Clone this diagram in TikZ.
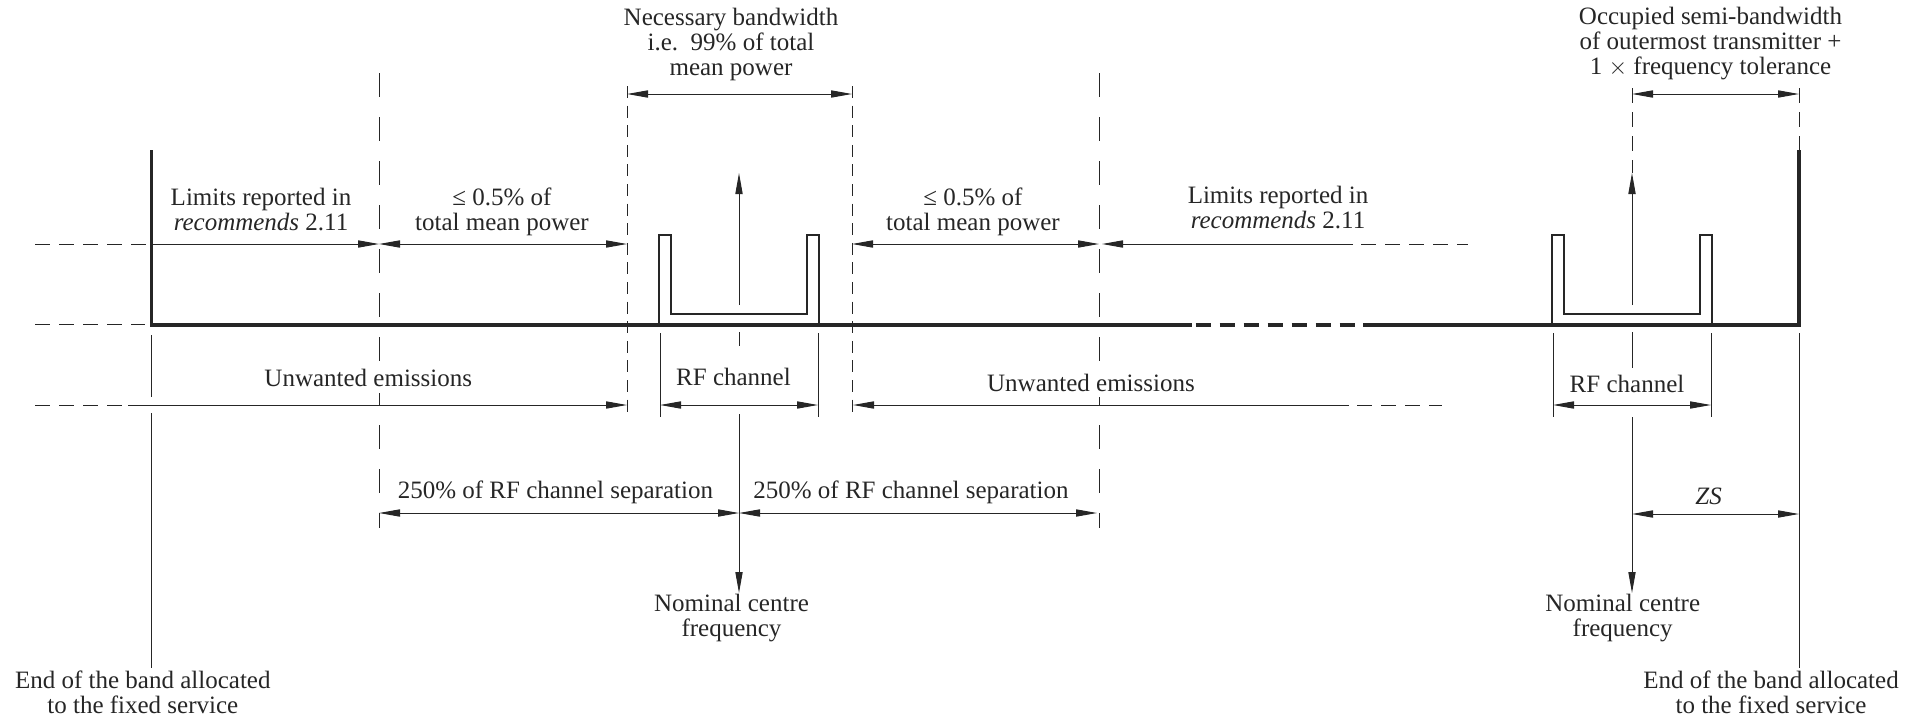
\documentclass[tikz,border=0pt]{standalone}
\usepackage{fontspec}
\setmainfont{Liberation Serif}
\usetikzlibrary{arrows.meta,positioning,calc}

\begin{document}
\begin{tikzpicture}[
    x=0.5pt, y=-0.5pt,
    color=black!85,
    font=\fontsize{12.5}{12.4}\selectfont,
    lbl/.style={align=center, anchor=base, inner sep=1pt},
    blank/.style={lbl, fill=white, inner sep=3pt},
    dim/.style={{Triangle[length=10.5pt, width=3.6pt]}-{Triangle[length=10.5pt, width=3.6pt]}, line width=0.5pt},
    arrow/.style={-{Triangle[length=10.5pt, width=3.6pt]}, line width=0.5pt},
    band/.style={line width=1.6pt},
    thin/.style={line width=0.5pt},
    chan/.style={line width=0.6pt},
    guide/.style={line width=0.5pt, dash pattern=on 6pt off 3.8pt},
    longguide/.style={line width=0.5pt, dash pattern=on 12pt off 10pt},
    ext/.style={line width=0.5pt, dash pattern=on 7.5pt off 4.5pt}
]
\useasboundingbox (0,0) rectangle (1919,723);

% points on the band floor
\coordinate (eL) at (151.5,325);
\coordinate (eR) at (1799,325);
\coordinate (gA) at (379,325);
\coordinate (gB) at (627,325);
\coordinate (gD) at (852,325);
\coordinate (gE) at (1099,325);
\coordinate (c1) at (739,325);
\coordinate (c2) at (1632,325);
\coordinate (brk1) at (1191.7,325);
\coordinate (brk2) at (1363.3,325);
\coordinate (far) at (35,325);
% rows
\coordinate (topA) at (0,73);
\coordinate (topB) at (0,86);
\coordinate (rN) at (0,94);
\coordinate (r1) at (0,244);
\coordinate (r2) at (0,405);
\coordinate (botB) at (0,415);
\coordinate (r3) at (0,513);
\coordinate (botA) at (0,528);

% band edges and floor
\draw[band] ($(eL)+(0,-175)$) -- (eL) -- (brk1);
\draw[band, dash pattern=on 7.85pt off 4.15pt] ($(brk1)+(4,0)$) -- ($(brk2)+(-4,0)$);
\draw[band] (brk2) -- (eR) -- ($(eR)+(0,-175)$);

% channels
\foreach \c in {c1,c2}{
  \draw[chan] ($(\c)+(-80,0)$) -- ++(0,-90) -- ++(12,0) -- ++(0,79) -- ++(136,0) -- ++(0,-79) -- ++(12,0) -- ++(0,90);
  \draw[arrow] ($(\c)+(0,-20)$) -- ($(\c)+(0,-152)$);
  \draw[thin] ($(\c)+(-79,8)$) -- ++(0,84);
  \draw[thin] ($(\c)+(79,8)$) -- ++(0,84);
  \draw[dim] ($(\c |- r2)+(-79,0)$) -- ($(\c |- r2)+(79,0)$);
}

% guide lines
\draw[ext] (far |- r1) -- ($(eL |- r1)+(-4,0)$);
\draw[ext] ($(far)+(0,-1)$) -- ($(eL)+(-7,-1)$);
\draw[thin] ($(eL)+(0,10)$) -- ($(eL |- r2)+(0,-8)$);
\draw[thin] ($(eL |- r2)+(0,8)$) -- ($(eL)+(0,343)$);
\draw[thin] ($(eR)+(0,8)$) -- ($(eR)+(0,343)$);
\draw[ext] ($(eR)+(0,-237)$) -- ($(eR)+(0,-175)$);
\draw[ext] ($(c2)+(0,-237)$) -- ($(c2)+(0,-152)$);
\foreach \g in {gB,gD}
  \draw[guide] (\g |- topB) -- (\g |- botB);
\foreach \g in {gA,gE}
  \draw[longguide] (\g |- topA) -- (\g |- botA);

% centre frequencies
\draw[thin] ($(c1)+(0,7)$) -- ($(c1)+(0,21)$);
\draw[arrow] ($(c1)+(0,89)$) -- ($(c1)+(0,268)$);
\draw[thin] ($(c2)+(0,7)$) -- ($(c2)+(0,43)$);
\draw[arrow] ($(c2)+(0,92)$) -- ($(c2)+(0,268)$);

% dimension arrows
\draw[dim] (gB |- rN) -- (gD |- rN);
\draw[dim] (c2 |- rN) -- (eR |- rN);

\draw[arrow] (eL |- r1) -- (gA |- r1);
\draw[dim] (gA |- r1) -- (gB |- r1);
\draw[dim] (gD |- r1) -- (gE |- r1);
\coordinate (lim2e) at (1353,244);
\draw[arrow] (lim2e) -- ($(gE |- r1)+(3,0)$);
\draw[ext] ($(lim2e)+(8,0)$) -- ++(107,0);

\coordinate (uw1s) at (128,405);
\draw[arrow] (uw1s) -- (gB |- r2);
\draw[ext] (far |- r2) -- ($(uw1s)+(-3,0)$);
\coordinate (uw2e) at (1349,405);
\draw[arrow] (uw2e) -- ($(gD |- r2)+(1,0)$);
\draw[ext] ($(uw2e)+(8,0)$) -- (1442,405);

\draw[dim] (gA |- r3) -- (c1 |- r3);
\draw[dim] (c1 |- r3) -- ($(gE |- r3)+(-2,0)$);
\draw[dim] ($(c2 |- r3)+(0,1)$) -- ($(eR |- r3)+(0,1)$);

% labels (base = last line)
\node[lbl] (nb) at (731,75) {Necessary bandwidth\\i.e.\ \ 99\% of total\\mean power};
\node[lbl] (osb) at (1710.5,74) {Occupied semi-bandwidth\\of outermost transmitter +\\1 $\times$ frequency tolerance};
\node[lbl] (lim1) at (261,230.5) {Limits reported in\\\textit{recommends} 2.11};
\node[lbl] (pw1) at (502,230) {≤ 0.5\% of\\total mean power};
\node[lbl] (pw2) at (973,230) {≤ 0.5\% of\\total mean power};
\node[lbl] (lim2) at (1278,228.5) {Limits reported in\\\textit{recommends} 2.11};
\node[blank] (uw1) at (368.3,386.7) {Unwanted emissions};
\node[lbl] (rf1) at (733.5,385) {RF channel};
\node[blank] (uw2) at (1091,391) {Unwanted emissions};
\node[lbl] (rf2) at (1627,392.7) {RF channel};
\node[lbl] (sep1) at (555.4,498.3) {250\% of RF channel separation};
\node[lbl] (sep2) at (911,498.3) {250\% of RF channel separation};
\node[lbl] (zs) at (1708.6,504.3) {\textit{ZS}};
\node[lbl] (nom1) at (731.5,636.7) {Nominal centre\\frequency};
\node[lbl] (nom2) at (1622.7,636.7) {Nominal centre\\frequency};
\node[lbl] (end1) at (142.8,713.3) {End of the band allocated\\to the fixed service};
\node[lbl] (end2) at (1771,713.3) {End of the band allocated\\to the fixed service};

\end{tikzpicture}
\end{document}
